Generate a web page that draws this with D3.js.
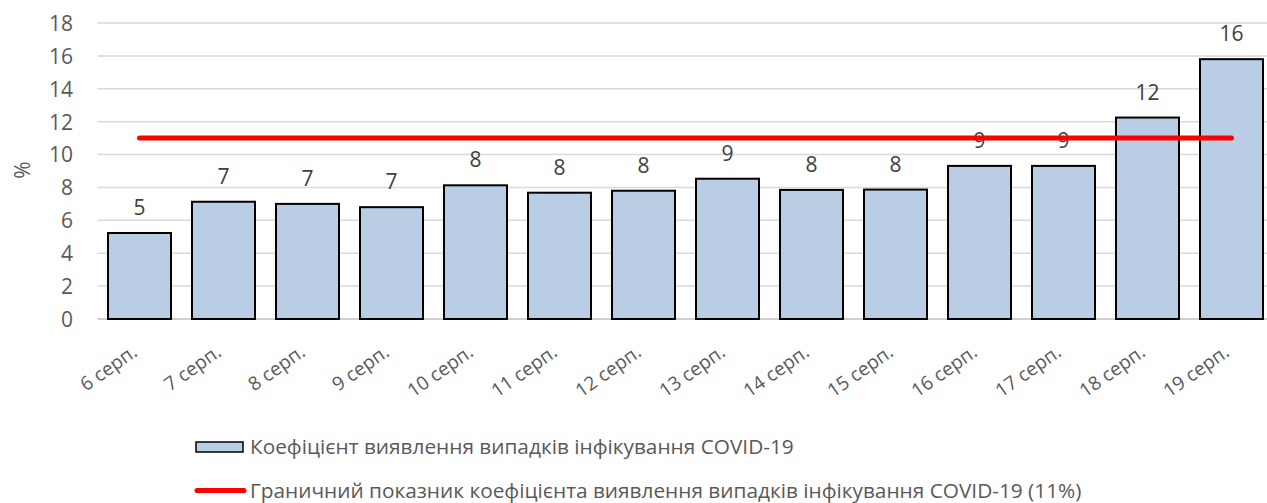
<!DOCTYPE html>
<html>
<head>
<meta charset="utf-8">
<script src="https://cdn.jsdelivr.net/npm/d3@7"></script>
<style>
  body { margin: 0; background: #fff; }
  text { font-family: "Open Sans", sans-serif; }
</style>
</head>
<body>
<div class="chart"></div>
<script>
// chart data
var dates = ["6 серп.", "7 серп.", "8 серп.", "9 серп.", "10 серп.", "11 серп.", "12 серп.",
  "13 серп.", "14 серп.", "15 серп.", "16 серп.", "17 серп.", "18 серп.", "19 серп."];
var rates = [5.23, 7.13, 7.0, 6.8, 8.13, 7.68, 7.8, 8.53, 7.85, 7.87, 9.31, 9.31, 12.25, 15.8];
var rateLabels = ["5", "7", "7", "7", "8", "8", "8", "9", "8", "8", "9", "9", "12", "16"];
var threshold = 11;
var yTicks = [0, 2, 4, 6, 8, 10, 12, 14, 16, 18];
var seriesNames = ["Коефіцієнт виявлення випадків інфікування COVID-19",
  "Граничний показник коефіцієнта виявлення випадків інфікування COVID-19 (11%)"];

var svgWidth = 1267;
var svgHeight = 503;

var svg = d3.select(".chart")
  .append("svg")
  .attr("width", svgWidth)
  .attr("height", svgHeight);

var xBand = d3.scaleBand()
  .domain(dates)
  .range([97.5, 1273.5])
  .paddingInner(0.25)
  .paddingOuter(0.125);

var yLinear = d3.scaleLinear()
  .domain([0, 18])
  .range([319, 23]);

// gridlines
svg.append("g")
  .selectAll("line")
  .data(yTicks)
  .enter()
  .append("line")
  .attr("x1", 97.5)
  .attr("x2", 1273.5)
  .attr("y1", d => yLinear(d))
  .attr("y2", d => yLinear(d))
  .attr("stroke", d => d === 0 ? "#bfbfbf" : "#d9d9d9")
  .attr("stroke-width", 1.5);

// y axis labels
var leftAxis = d3.axisLeft(yLinear).tickValues(yTicks).tickSize(0).tickPadding(0);
var yAxis = svg.append("g")
  .attr("transform", "translate(73, 0)")
  .call(leftAxis);
yAxis.select(".domain").remove();
yAxis.selectAll("text")
  .attr("font-size", 21)
  .attr("font-family", "Open Sans")
  .attr("fill", "#595959")
  .attr("dy", "0.35em");

svg.append("text")
  .attr("transform", "translate(30, 170) rotate(-90)")
  .attr("text-anchor", "middle")
  .attr("font-size", 21)
  .attr("fill", "#595959")
  .text("%");

// bars
svg.append("g")
  .selectAll("rect")
  .data(rates)
  .enter()
  .append("rect")
  .attr("x", (d, i) => xBand(dates[i]))
  .attr("y", d => yLinear(d))
  .attr("width", xBand.bandwidth())
  .attr("height", d => yLinear(0) - yLinear(d))
  .attr("fill", "#b9cde5")
  .attr("stroke", "#000")
  .attr("stroke-width", 2);

// value labels
svg.append("g")
  .selectAll("text")
  .data(rates)
  .enter()
  .append("text")
  .attr("x", (d, i) => xBand(dates[i]) + xBand.bandwidth() / 2)
  .attr("y", d => yLinear(d) - 18)
  .attr("text-anchor", "middle")
  .attr("font-size", 21)
  .attr("fill", "#404040")
  .text((d, i) => rateLabels[i]);

// threshold line
var line = d3.line()
  .x(d => xBand(d) + xBand.bandwidth() / 2)
  .y(() => yLinear(threshold));

svg.append("path")
  .datum(dates)
  .attr("d", line)
  .attr("fill", "none")
  .attr("stroke", "#ff0000")
  .attr("stroke-width", 5)
  .attr("stroke-linecap", "round");

// category labels
svg.append("g")
  .selectAll("text")
  .data(dates)
  .enter()
  .append("text")
  .attr("transform", d => `translate(${xBand(d) + xBand.bandwidth() / 2 - 1}, 355) rotate(-35)`)
  .attr("text-anchor", "end")
  .attr("font-size", 19)
  .attr("fill", "#595959")
  .text(d => d);

// legend
var legend = svg.append("g");
legend.append("rect")
  .attr("x", 196)
  .attr("y", 442)
  .attr("width", 47)
  .attr("height", 10)
  .attr("fill", "#b9cde5")
  .attr("stroke", "#000")
  .attr("stroke-width", 1.5);
legend.append("text")
  .attr("x", 250)
  .attr("y", 447)
  .attr("dy", "0.35em")
  .attr("font-size", 20.8)
  .attr("fill", "#595959")
  .text(seriesNames[0]);
legend.append("line")
  .attr("x1", 197)
  .attr("x2", 244)
  .attr("y1", 490.5)
  .attr("y2", 490.5)
  .attr("stroke", "#ff0000")
  .attr("stroke-width", 5)
  .attr("stroke-linecap", "round");
legend.append("text")
  .attr("x", 250)
  .attr("y", 490.5)
  .attr("dy", "0.35em")
  .attr("font-size", 20.8)
  .attr("fill", "#595959")
  .text(seriesNames[1]);
</script>
</body>
</html>
